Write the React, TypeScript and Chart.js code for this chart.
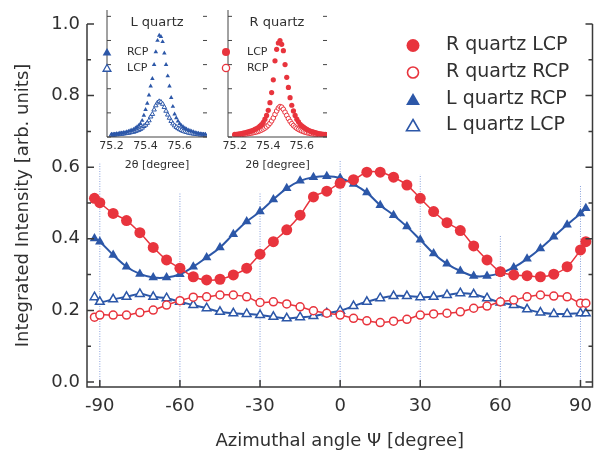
import React, { useEffect, useRef } from "react";
import { Chart, registerables } from "chart.js";

Chart.register(...registerables);

const FONT = '"DejaVu Sans", sans-serif';
const INK = "#303030";
const RED = "#e8343d";
const BLUE = "#2c57a8";
const GUIDE = "#8aa2dc";

// ---------- main panel data ----------
const PSI = [-92, -90, -85, -80, -75, -70, -65, -60, -55, -50, -45, -40, -35, -30, -25, -20, -15, -10, -5, 0, 5, 10, 15, 20, 25, 30, 35, 40, 45, 50, 55, 60, 65, 70, 75, 80, 85, 90, 92];
const R_LCP = [0.513, 0.501, 0.471, 0.451, 0.417, 0.376, 0.341, 0.318, 0.294, 0.285, 0.287, 0.299, 0.318, 0.357, 0.392, 0.425, 0.466, 0.517, 0.533, 0.555, 0.565, 0.586, 0.586, 0.572, 0.55, 0.513, 0.476, 0.445, 0.423, 0.38, 0.341, 0.308, 0.299, 0.297, 0.294, 0.301, 0.322, 0.369, 0.392];
const R_RCP = [0.181, 0.187, 0.187, 0.187, 0.194, 0.201, 0.215, 0.227, 0.237, 0.238, 0.243, 0.243, 0.238, 0.222, 0.224, 0.218, 0.21, 0.199, 0.192, 0.187, 0.178, 0.171, 0.166, 0.17, 0.175, 0.187, 0.19, 0.192, 0.196, 0.206, 0.212, 0.224, 0.229, 0.238, 0.243, 0.24, 0.238, 0.22, 0.22];
const L_RCP = [0.401, 0.392, 0.355, 0.322, 0.302, 0.292, 0.292, 0.301, 0.322, 0.348, 0.376, 0.413, 0.448, 0.476, 0.51, 0.541, 0.562, 0.572, 0.575, 0.57, 0.553, 0.529, 0.494, 0.466, 0.434, 0.397, 0.359, 0.33, 0.31, 0.296, 0.296, 0.304, 0.32, 0.344, 0.373, 0.406, 0.439, 0.471, 0.485];
const L_LCP = [0.237, 0.224, 0.231, 0.238, 0.246, 0.238, 0.234, 0.224, 0.215, 0.206, 0.196, 0.192, 0.19, 0.187, 0.182, 0.178, 0.181, 0.184, 0.192, 0.199, 0.212, 0.224, 0.234, 0.24, 0.24, 0.237, 0.238, 0.243, 0.248, 0.245, 0.234, 0.222, 0.215, 0.203, 0.194, 0.19, 0.19, 0.192, 0.192];

const X_TICKS = [-90, -60, -30, 0, 30, 60, 90];
const Y_TICKS = [0, 0.2, 0.4, 0.6, 0.8, 1.0];
const Y_MINOR = [0.1, 0.3, 0.5, 0.7, 0.9];
const GUIDE_X = [-90, -60, -30, 0, 30, 60, 90];
const GUIDE_TOP = [0.61, 0.53, 0.53, 0.62, 0.58, 0.41, 0.55];
const LEGEND_LABELS = ["R quartz LCP", "R quartz RCP", "L quartz RCP", "L quartz LCP"];

// ---------- inset data ----------
const TTH = [75.2, 75.21, 75.22, 75.23, 75.24, 75.25, 75.26, 75.27, 75.28, 75.29, 75.3, 75.31, 75.32, 75.33, 75.34, 75.35, 75.36, 75.37, 75.38, 75.39, 75.4, 75.41, 75.42, 75.43, 75.44, 75.45, 75.46, 75.47, 75.48, 75.49, 75.5, 75.51, 75.52, 75.53, 75.54, 75.55, 75.56, 75.57, 75.58, 75.59, 75.6, 75.61, 75.62, 75.63, 75.64, 75.65, 75.66, 75.67, 75.68, 75.69, 75.7, 75.71, 75.72, 75.73, 75.74, 75.75];
const INSET_L_RCP = [0.02, 0.02, 0.02, 0.025, 0.025, 0.03, 0.03, 0.035, 0.035, 0.04, 0.045, 0.05, 0.055, 0.06, 0.07, 0.08, 0.09, 0.105, 0.13, 0.17, 0.215, 0.265, 0.33, 0.4, 0.46, 0.57, 0.67, 0.76, 0.8, 0.79, 0.75, 0.66, 0.57, 0.48, 0.4, 0.31, 0.24, 0.18, 0.15, 0.125, 0.105, 0.09, 0.08, 0.07, 0.062, 0.055, 0.05, 0.045, 0.04, 0.035, 0.03, 0.028, 0.025, 0.022, 0.02, 0.02];
const INSET_L_LCP = [0.015, 0.015, 0.018, 0.02, 0.02, 0.022, 0.024, 0.026, 0.028, 0.03, 0.032, 0.035, 0.038, 0.04, 0.045, 0.05, 0.055, 0.062, 0.072, 0.085, 0.095, 0.11, 0.13, 0.16, 0.18, 0.215, 0.248, 0.27, 0.28, 0.275, 0.26, 0.235, 0.205, 0.175, 0.15, 0.125, 0.105, 0.09, 0.078, 0.068, 0.06, 0.053, 0.047, 0.042, 0.038, 0.034, 0.031, 0.028, 0.026, 0.024, 0.022, 0.02, 0.018, 0.017, 0.016, 0.015];
const INSET_R_LCP = [0.02, 0.02, 0.022, 0.025, 0.027, 0.03, 0.033, 0.036, 0.04, 0.044, 0.048, 0.053, 0.06, 0.067, 0.075, 0.085, 0.097, 0.115, 0.14, 0.17, 0.21, 0.27, 0.35, 0.45, 0.6, 0.69, 0.74, 0.76, 0.73, 0.68, 0.57, 0.47, 0.39, 0.31, 0.25, 0.205, 0.17, 0.14, 0.12, 0.1, 0.088, 0.077, 0.068, 0.06, 0.053, 0.047, 0.042, 0.038, 0.034, 0.03, 0.027, 0.025, 0.022, 0.02, 0.02, 0.018];
const INSET_R_RCP = [0.015, 0.016, 0.017, 0.018, 0.02, 0.021, 0.023, 0.025, 0.027, 0.029, 0.031, 0.034, 0.037, 0.04, 0.044, 0.049, 0.055, 0.062, 0.07, 0.08, 0.093, 0.108, 0.127, 0.15, 0.178, 0.205, 0.228, 0.24, 0.235, 0.218, 0.195, 0.17, 0.145, 0.123, 0.105, 0.09, 0.078, 0.068, 0.06, 0.053, 0.047, 0.042, 0.038, 0.034, 0.031, 0.028, 0.026, 0.024, 0.022, 0.02, 0.019, 0.018, 0.017, 0.016, 0.015, 0.015];
const INSET_X_TICKS = [75.2, 75.4, 75.6];
const INSET_Y_TICKS = [0, 0.19, 0.38, 0.57, 0.76, 0.95];

const Y_MIN = -0.014;
const Y_MAX = 1.0;

type Mk = { style: "circle" | "triangle"; r: number; fill: string; stroke: string; lw: number };

function drawMarker(ctx: CanvasRenderingContext2D, m: Mk, x: number, y: number) {
  ctx.beginPath();
  if (m.style === "circle") {
    ctx.arc(x, y, m.r, 0, Math.PI * 2);
  } else {
    for (let i = 0; i < 3; i++) {
      const a = (i * 2 * Math.PI) / 3;
      const px = x + Math.sin(a) * m.r;
      const py = y - Math.cos(a) * m.r;
      if (i === 0) ctx.moveTo(px, py);
      else ctx.lineTo(px, py);
    }
    ctx.closePath();
  }
  ctx.fillStyle = m.fill;
  ctx.fill();
  if (m.lw > 0) {
    ctx.lineWidth = m.lw;
    ctx.strokeStyle = m.stroke;
    ctx.stroke();
  }
}

function makeFrame(p: {
  color: string;
  width: number;
  yTicks: { v: number; len: number }[];
  xTicks: { v: number; len: number }[];
  rightLine: boolean;
  rightTicks: boolean;
}) {
  return {
    id: "frame",
    afterDatasetsDraw(chart: any) {
      const { ctx, chartArea: a, scales } = chart;
      ctx.save();
      ctx.strokeStyle = p.color;
      ctx.lineWidth = p.width;
      ctx.beginPath();
      ctx.moveTo(a.left, a.top);
      ctx.lineTo(a.left, a.bottom);
      ctx.lineTo(a.right, a.bottom);
      if (p.rightLine) ctx.lineTo(a.right, a.top);
      ctx.stroke();
      ctx.beginPath();
      for (const t of p.yTicks) {
        const py = scales.y.getPixelForValue(t.v);
        ctx.moveTo(a.left, py);
        ctx.lineTo(a.left + t.len, py);
        if (p.rightTicks) {
          ctx.moveTo(a.right, py);
          ctx.lineTo(a.right - t.len, py);
        }
      }
      for (const t of p.xTicks) {
        const px = scales.x.getPixelForValue(t.v);
        ctx.moveTo(px, a.bottom);
        ctx.lineTo(px, a.bottom - t.len);
      }
      ctx.stroke();
      ctx.restore();
    },
  };
}

function makeDecor(p: {
  items: { label: string; mk: Mk; x: number; y: number; tx: number; ty: number }[];
  font: string;
  title?: { text: string; x: number; y: number; font: string };
}) {
  return {
    id: "decor",
    afterDraw(chart: any) {
      const ctx: CanvasRenderingContext2D = chart.ctx;
      ctx.save();
      for (const it of p.items) {
        drawMarker(ctx, it.mk, it.x, it.y);
        ctx.fillStyle = INK;
        ctx.font = p.font;
        ctx.textAlign = "left";
        ctx.textBaseline = "middle";
        ctx.fillText(it.label, it.tx, it.ty);
      }
      if (p.title) {
        ctx.fillStyle = INK;
        ctx.font = p.title.font;
        ctx.textAlign = "center";
        ctx.textBaseline = "middle";
        ctx.fillText(p.title.text, p.title.x, p.title.y);
      }
      ctx.restore();
    },
  };
}

const toXY = (xs: number[], ys: number[]) => xs.map((x, i) => ({ x, y: ys[i] }));

const MK_R_LCP: Mk = { style: "circle", r: 5.5, fill: RED, stroke: RED, lw: 0 };
const MK_R_RCP: Mk = { style: "circle", r: 4, fill: "#ffffff", stroke: RED, lw: 1.5 };
const MK_L_RCP: Mk = { style: "triangle", r: 5.5, fill: BLUE, stroke: BLUE, lw: 0 };
const MK_L_LCP: Mk = { style: "triangle", r: 5, fill: "#ffffff", stroke: BLUE, lw: 1.5 };

function seriesDs(data: number[], mk: Mk, color: string, lineW: number) {
  return {
    type: "line",
    data: toXY(PSI, data),
    borderColor: color,
    borderWidth: lineW,
    tension: 0.4,
    pointStyle: mk.style,
    pointRadius: mk.r,
    pointBackgroundColor: mk.fill,
    pointBorderColor: mk.stroke,
    pointBorderWidth: mk.lw,
    order: 1,
  };
}

function mainConfig(): any {
  const guides = GUIDE_X.map((gx, i) => ({
    type: "line",
    data: [
      { x: gx, y: Y_MIN },
      { x: gx, y: GUIDE_TOP[i] },
    ],
    borderColor: GUIDE,
    borderWidth: 1,
    borderDash: [1, 1.5],
    pointRadius: 0,
    order: 10,
  }));
  const legendMks = [MK_R_LCP, MK_R_RCP, MK_L_RCP, MK_L_LCP];
  const legendMkScale = [
    { r: 6.5, lw: 0 },
    { r: 5.5, lw: 1.6 },
    { r: 8, lw: 0 },
    { r: 7.5, lw: 1.6 },
  ];
  const legendMkY = [45.5, 72.5, 101, 127];
  const legendTxtY = [45.5, 72.5, 99.5, 125.5];
  return {
    type: "line",
    data: {
      datasets: [
        ...guides,
        seriesDs(R_LCP, MK_R_LCP, RED, 1.5),
        seriesDs(R_RCP, MK_R_RCP, RED, 1.5),
        seriesDs(L_RCP, MK_L_RCP, BLUE, 2),
        seriesDs(L_LCP, MK_L_LCP, BLUE, 2),
      ],
    },
    options: {
      responsive: false,
      animation: false,
      devicePixelRatio: 1,
      layout: { padding: { left: 0, top: 24, right: 3, bottom: 0 } },
      plugins: { legend: { display: false }, tooltip: { enabled: false } },
      scales: {
        x: {
          type: "linear",
          min: -94.8,
          max: 94.5,
          afterBuildTicks: (s: any) => {
            s.ticks = X_TICKS.map((v) => ({ value: v }));
          },
          afterFit: (s: any) => {
            s.height = 66;
            s.paddingLeft = 0;
            s.paddingRight = 0;
          },
          grid: { display: false, drawTicks: false },
          border: { display: false },
          ticks: {
            color: INK,
            font: { family: FONT, size: 18 },
            padding: 9,
            maxRotation: 0,
            autoSkip: false,
            callback: (v: any) => String(v),
          },
          title: {
            display: true,
            text: "Azimuthal angle Ψ [degree]",
            color: INK,
            font: { family: FONT, size: 18 },
            padding: { top: 0, bottom: 1 },
          },
        },
        y: {
          type: "linear",
          min: Y_MIN,
          max: Y_MAX,
          afterBuildTicks: (s: any) => {
            s.ticks = Y_TICKS.map((v) => ({ value: v }));
          },
          afterFit: (s: any) => {
            s.width = 87;
            s.paddingTop = 0;
            s.paddingBottom = 0;
          },
          grid: { display: false, drawTicks: false },
          border: { display: false },
          ticks: {
            color: INK,
            font: { family: FONT, size: 18 },
            padding: 7,
            callback: (v: any) => Number(v).toFixed(1),
          },
          title: {
            display: true,
            text: "Integrated Intensity [arb. units]",
            color: INK,
            font: { family: FONT, size: 18 },
            padding: { top: 13, bottom: 0 },
          },
        },
      },
    },
    plugins: [
      makeFrame({
        color: "#3a3a3a",
        width: 1.5,
        yTicks: [...Y_TICKS.map((v) => ({ v, len: 7 })), ...Y_MINOR.map((v) => ({ v, len: 4 }))],
        xTicks: X_TICKS.map((v) => ({ v, len: 7 })),
        rightLine: true,
        rightTicks: true,
      }),
      makeDecor({
        font: `19px ${FONT}`,
        items: LEGEND_LABELS.map((label, i) => ({
          label,
          mk: { ...legendMks[i], ...legendMkScale[i] },
          x: 413,
          y: legendMkY[i],
          tx: 446,
          ty: legendTxtY[i],
        })),
      }),
    ],
  };
}

function insetConfig(p: {
  xMin: number;
  xMax: number;
  padRight: number;
  sets: { data: number[]; mk: Mk }[];
  decor: any;
}): any {
  const left = 17;
  return {
    type: "scatter",
    data: {
      datasets: p.sets.map((s) => ({
        data: toXY(TTH, s.data),
        showLine: false,
        pointStyle: s.mk.style,
        pointRadius: s.mk.r,
        pointBackgroundColor: s.mk.fill,
        pointBorderColor: s.mk.stroke,
        pointBorderWidth: s.mk.lw,
      })),
    },
    options: {
      responsive: false,
      animation: false,
      devicePixelRatio: 1,
      layout: { padding: { left, top: 10, right: p.padRight, bottom: 0 } },
      plugins: { legend: { display: false }, tooltip: { enabled: false } },
      scales: {
        x: {
          type: "linear",
          min: p.xMin,
          max: p.xMax,
          afterBuildTicks: (s: any) => {
            s.ticks = INSET_X_TICKS.map((v) => ({ value: v }));
          },
          afterFit: (s: any) => {
            s.height = 43;
            s.paddingLeft = 0;
            s.paddingRight = 0;
          },
          grid: { display: false, drawTicks: false },
          border: { display: false },
          ticks: {
            color: INK,
            font: { family: FONT, size: 11 },
            padding: 3,
            maxRotation: 0,
            autoSkip: false,
            callback: (v: any) => Number(v).toFixed(1),
          },
          title: {
            display: true,
            text: "2θ [degree]",
            color: INK,
            font: { family: FONT, size: 11 },
            padding: { top: 0, bottom: 8 },
          },
        },
        y: { type: "linear", display: false, min: 0, max: 1 },
      },
    },
    plugins: [
      makeFrame({
        color: "#444444",
        width: 1,
        yTicks: INSET_Y_TICKS.map((v) => ({ v, len: 4 })),
        xTicks: [],
        rightLine: false,
        rightTicks: true,
      }),
      p.decor,
    ],
  };
}

export default function App() {
  const mainRef = useRef<HTMLCanvasElement>(null);
  const lRef = useRef<HTMLCanvasElement>(null);
  const rRef = useRef<HTMLCanvasElement>(null);

  useEffect(() => {
    const charts: Chart[] = [];
    charts.push(new Chart(mainRef.current as HTMLCanvasElement, mainConfig()));

    const lCfg = insetConfig({
      xMin: 75.174,
      xMax: 75.76,
      padRight: 23,
      sets: [
        { data: INSET_L_RCP, mk: { style: "triangle", r: 2.6, fill: BLUE, stroke: BLUE, lw: 0 } },
        { data: INSET_L_LCP, mk: { style: "triangle", r: 2.6, fill: "#ffffff", stroke: BLUE, lw: 1 } },
      ],
      decor: makeDecor({
        font: `11px ${FONT}`,
        title: { text: "L quartz", x: 67, y: 23, font: `13px ${FONT}` },
        items: [
          { label: "RCP", mk: { style: "triangle", r: 5, fill: BLUE, stroke: BLUE, lw: 0 }, x: 17, y: 53, tx: 37, ty: 52 },
          { label: "LCP", mk: { style: "triangle", r: 4.5, fill: "#ffffff", stroke: BLUE, lw: 1.3 }, x: 17, y: 69, tx: 37, ty: 68 },
        ],
      }),
    });
    charts.push(new Chart(lRef.current as HTMLCanvasElement, lCfg));

    const rCfg = insetConfig({
      xMin: 75.16,
      xMax: 75.75,
      padRight: 24,
      sets: [
        { data: INSET_R_LCP, mk: { style: "circle", r: 2.6, fill: RED, stroke: RED, lw: 0 } },
        { data: INSET_R_RCP, mk: { style: "circle", r: 2.3, fill: "#ffffff", stroke: RED, lw: 1 } },
      ],
      decor: makeDecor({
        font: `11px ${FONT}`,
        title: { text: "R quartz", x: 66, y: 23, font: `13px ${FONT}` },
        items: [
          { label: "LCP", mk: { style: "circle", r: 4, fill: RED, stroke: RED, lw: 0 }, x: 15, y: 52, tx: 36, ty: 52 },
          { label: "RCP", mk: { style: "circle", r: 3.6, fill: "#ffffff", stroke: RED, lw: 1.3 }, x: 15, y: 68, tx: 36, ty: 68 },
        ],
      }),
    });
    charts.push(new Chart(rRef.current as HTMLCanvasElement, rCfg));

    return () => charts.forEach((c) => c.destroy());
  }, []);

  return (
    <div style={{ position: "absolute", left: 0, top: 0, width: 599, height: 453, background: "#ffffff" }}>
      <canvas ref={mainRef} width={599} height={453} style={{ position: "absolute", left: 0, top: 0, width: 599, height: 453 }} />
      <canvas ref={lRef} width={140} height={180} style={{ position: "absolute", left: 90, top: 0, width: 140, height: 180 }} />
      <canvas ref={rRef} width={140} height={180} style={{ position: "absolute", left: 211, top: 0, width: 140, height: 180 }} />
    </div>
  );
}
